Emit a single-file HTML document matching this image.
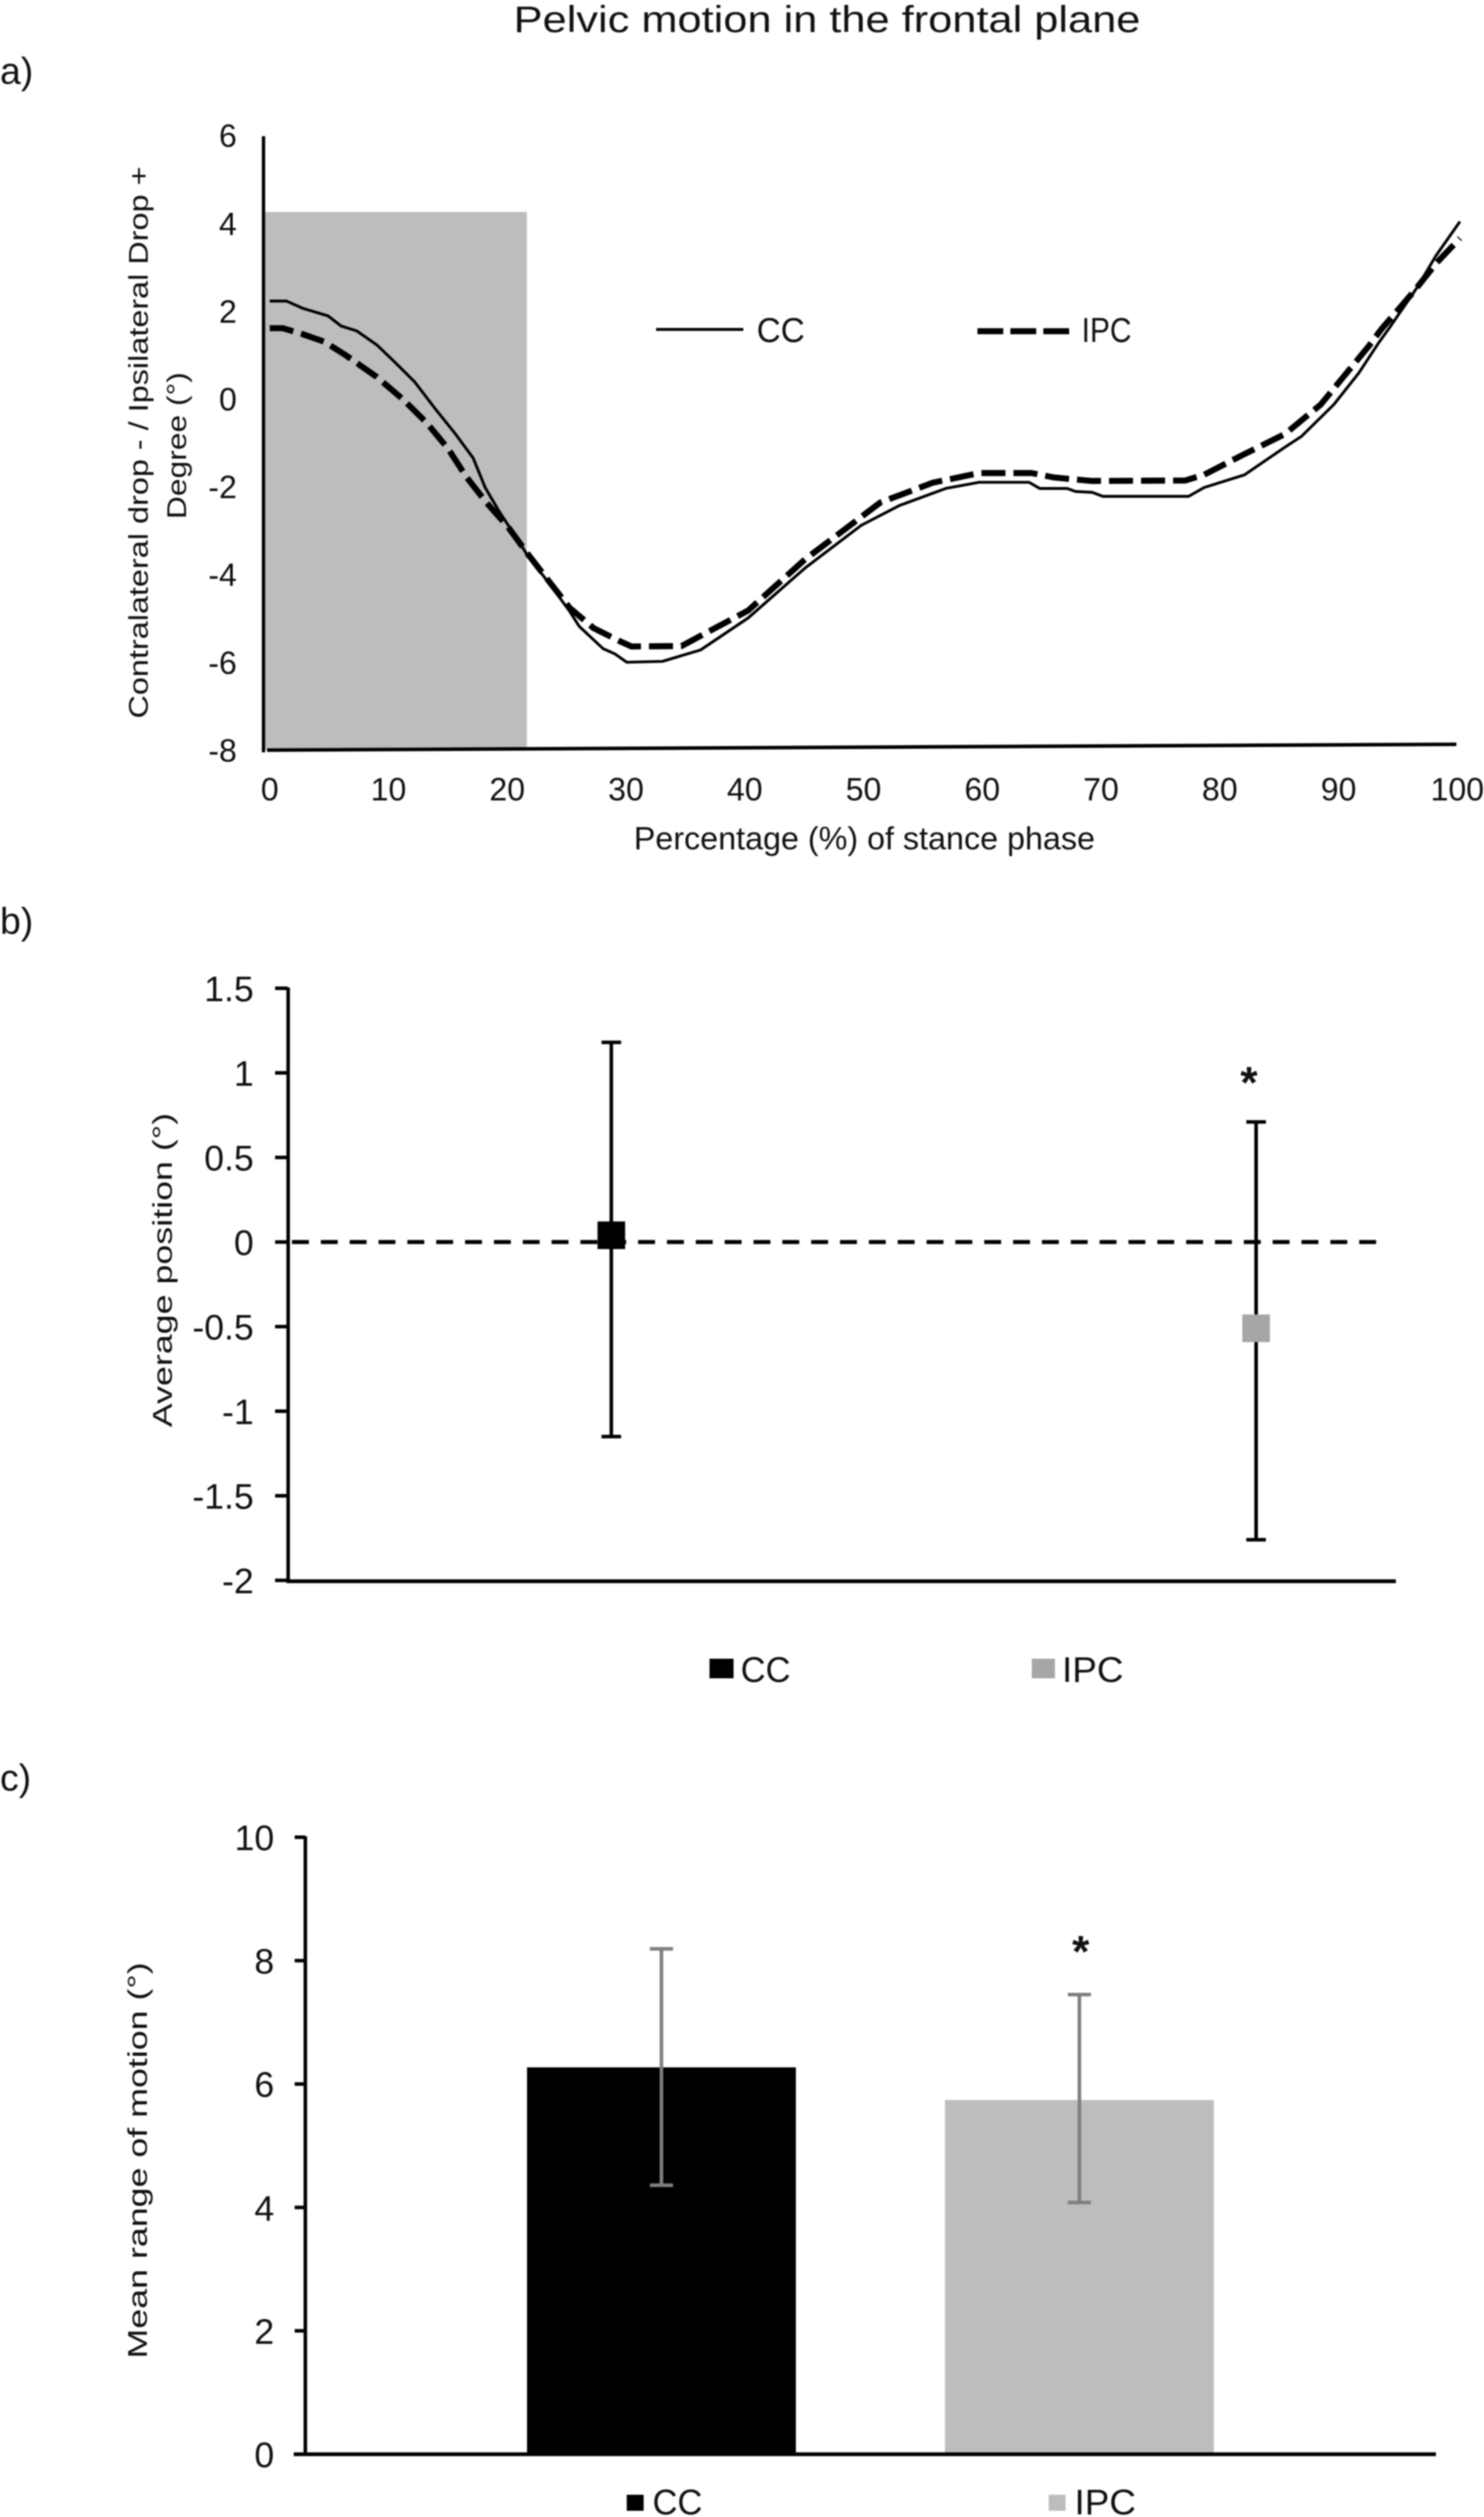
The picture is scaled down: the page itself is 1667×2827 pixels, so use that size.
<!DOCTYPE html>
<html lang="en">
<head>
<meta charset="utf-8">
<title>Pelvic motion in the frontal plane</title>
<style>
html,body{margin:0;padding:0;background:#fff;width:1667px;height:2827px;overflow:hidden}
svg{display:block;filter:blur(0.7px)}
text{font-family:"Liberation Sans",sans-serif;fill:#111}
</style>
</head>
<body>
<svg id="fig" xmlns="http://www.w3.org/2000/svg" width="1667" height="2827" viewBox="0 0 1667 2827">
  <rect x="0" y="0" width="1667" height="2827" fill="#fff"/>
  <text x="577" y="36" font-size="42" textLength="704" lengthAdjust="spacingAndGlyphs">Pelvic motion in the frontal plane</text>
  <text x="0" y="94" font-size="42">a)</text>
  <text x="0" y="1049" font-size="42">b)</text>
  <text x="0" y="2011" font-size="42">c)</text>

  <g id="panelA"></g>
  <g id="panelB"></g>
  <g id="panelC"></g>
</svg>
<script>
/* Panel a data */
const aXTicks = [0,10,20,30,40,50,60,70,80,90,100];
const aYTicks = [6,4,2,0,-2,-4,-6,-8];
const ccPct = [0,1.4,2.8,4.9,6,7.3,9,10.5,12.2,14,15.6,17.1,18.1,19.2,20.2,21.7,23.5,25.2,26,28,29,30,33,36.2,40.2,45,49.7,52.9,56.8,59.6,63.8,64.7,67,67.7,69.1,70,77.2,78.5,81.9,85.3,86.7,89.4,91.5,93.2,94,96.4,98,100];
const ccVal = [2.24,2.24,2.07,1.9,1.67,1.56,1.24,0.85,0.39,-0.25,-0.79,-1.34,-2.01,-2.52,-2.94,-3.57,-4.2,-4.83,-5.17,-5.68,-5.8,-5.99,-5.97,-5.71,-4.98,-3.84,-2.87,-2.42,-2.03,-1.89,-1.89,-2.03,-2.03,-2.1,-2.12,-2.21,-2.21,-2.01,-1.72,-1.09,-0.84,-0.12,0.6,1.3,1.6,2.55,3.28,4.05];
const ipcPct = [0,1.1,2.8,4.6,6.3,9,11.2,13.2,15,16.5,18.2,20,21.7,23.5,25.2,27.2,29.4,30.4,34.6,40.2,45,51.3,55.7,59.6,64,65.9,69.1,76.9,78.5,81.8,85.3,88.3,90.2,92.3,93.4,96.1,98,100];
const ipcVal = [1.62,1.62,1.48,1.31,1.02,0.51,0,-0.54,-1.13,-1.76,-2.35,-2.9,-3.53,-4.16,-4.75,-5.21,-5.51,-5.63,-5.62,-4.81,-3.64,-2.35,-1.9,-1.68,-1.68,-1.78,-1.86,-1.85,-1.72,-1.26,-0.79,-0.12,0.51,1.2,1.6,2.45,3.1,3.67];
const shadedEndPct = 21.6;
const shadedTopVal = 4.27;

/* Panel b data */
const bYTicks = [1.5,1,0.5,0,-0.5,-1,-1.5,-2];
const bGroups = ["CC","IPC"];
const bMeans = [0.04,-0.51];
const bUpper = [1.18,0.71];
const bLower = [-1.15,-1.76];

/* Panel c data */
const cYTicks = [10,8,6,4,2,0];
const cGroups = ["CC","IPC"];
const cMeans = [6.27,5.74];
const cUpper = [8.19,7.45];
const cLower = [4.36,4.08];

const NS = "http://www.w3.org/2000/svg";
function el(parent, tag, attrs, txt) {
  const n = document.createElementNS(NS, tag);
  for (const k in attrs) n.setAttribute(k, attrs[k]);
  if (txt !== undefined) n.textContent = txt;
  parent.appendChild(n);
  return n;
}
function pointsOf(xs, ys, fx, fy) {
  return xs.map((p, i) => fx(p).toFixed(1) + "," + fy(ys[i]).toFixed(1)).join(" ");
}

/* ---------- Panel a ---------- */
const A = document.getElementById("panelA");
const ax = p => 303 + 13.37 * p;
const ay = v => 448.5 - 49.3 * v;
const shade = el(A, "rect", {x:298, y:ay(shadedTopVal), width:ax(shadedEndPct)-298, height:842-ay(shadedTopVal), fill:"#bdbdbd"});


const aYAxis = el(A, "line", {x1:296, y1:153, x2:296, y2:845, stroke:"#000", "stroke-width":3.8});


const aXAxis = el(A, "line", {x1:300, y1:842.5, x2:1636, y2:836, stroke:"#000", "stroke-width":4});


aYTicks.forEach(v => {
  const t = el(A, "text", {x:266, y:ay(v)+12.5, "font-size":36, "text-anchor":"end"}, String(v));
  
  
});
aXTicks.forEach(p => {
  const t = el(A, "text", {x:303+13.34*p, y:899, "font-size":36, "text-anchor":"middle"}, String(p));
  
  
});
const ccLine = el(A, "polyline", {points:pointsOf(ccPct, ccVal, ax, ay), fill:"none", stroke:"#000", "stroke-width":3.2, "stroke-linejoin":"round"});


const ipcLine = el(A, "polyline", {points:pointsOf(ipcPct, ipcVal, ax, ay), fill:"none", stroke:"#000", "stroke-width":6.8, "stroke-dasharray":"27 9", "stroke-linejoin":"round"});


const aTitleX = el(A, "text", {x:712, y:954, "font-size":36, textLength:518, lengthAdjust:"spacingAndGlyphs"}, "Percentage (%) of stance phase");


const aTitleY1 = el(A, "text", {x:0, y:0, "font-size":31, textLength:620, lengthAdjust:"spacingAndGlyphs", transform:"translate(166,807) rotate(-90)"}, "Contralateral drop - / Ipsilateral Drop +");


const aTitleY2 = el(A, "text", {x:0, y:0, "font-size":31, textLength:165, lengthAdjust:"spacingAndGlyphs", transform:"translate(209,583) rotate(-90)"}, "Degree (°)");


const lgCcLine = el(A, "line", {x1:737, y1:370, x2:835, y2:370, stroke:"#000", "stroke-width":3.2});


const lgCcText = el(A, "text", {x:850, y:384, "font-size":39, textLength:54, lengthAdjust:"spacingAndGlyphs"}, "CC");


const lgIpcLine = el(A, "line", {x1:1098, y1:372, x2:1201, y2:372, stroke:"#000", "stroke-width":6.8, "stroke-dasharray":"29 8"});


const lgIpcText = el(A, "text", {x:1215, y:384, "font-size":39, textLength:56, lengthAdjust:"spacingAndGlyphs"}, "IPC");



/* ---------- Panel b ---------- */
const B = document.getElementById("panelB");
const bx = i => 686.7 + 724.3 * i;
const by = v => 1395 - 190 * v;
const bColors = ["#000","#a6a6a6"];
const bYAxis = el(B, "line", {x1:323.7, y1:by(1.5)-1, x2:323.7, y2:1778, stroke:"#000", "stroke-width":4});


const bXAxis = el(B, "line", {x1:322, y1:1776, x2:1568, y2:1776, stroke:"#000", "stroke-width":4.2});


bYTicks.forEach(v => {
  const tick = el(B, "line", {x1:309, y1:by(v), x2:323, y2:by(v), stroke:"#000", "stroke-width":4});
  
  
  const t = el(B, "text", {x:285, y:by(v)+14.5, "font-size":40, "text-anchor":"end"}, String(v));
  
  
});
const zeroLine = el(B, "line", {x1:328, y1:by(0), x2:1547, y2:by(0), stroke:"#000", "stroke-width":4.4, "stroke-dasharray":"19 13.4"});


bGroups.forEach((g, i) => {
  const stem = el(B, "line", {x1:bx(i), y1:by(bUpper[i]), x2:bx(i), y2:by(bLower[i]), stroke:"#000", "stroke-width":4});
  
  
  [bUpper[i], bLower[i]].forEach(v => {
    const cap = el(B, "line", {x1:bx(i)-11, y1:by(v), x2:bx(i)+11, y2:by(v), stroke:"#000", "stroke-width":4});
    
    
  });
  const m = el(B, "rect", {x:bx(i)-15.5, y:by(bMeans[i])-15.5, width:31, height:31, fill:bColors[i]});
  
  
});
const bStar = el(B, "text", {x:1403, y:1233, "font-size":50, "font-weight":"bold", "text-anchor":"middle"}, "*");


const bTitleY = el(B, "text", {x:0, y:0, "font-size":31, textLength:353, lengthAdjust:"spacingAndGlyphs", transform:"translate(193,1603) rotate(-90)"}, "Average position (°)");


const bLgA = el(B, "rect", {x:797, y:1863, width:27, height:22, fill:"#000"});


const bLgAT = el(B, "text", {x:832, y:1889, "font-size":40, textLength:56, lengthAdjust:"spacingAndGlyphs"}, "CC");


const bLgB = el(B, "rect", {x:1159, y:1863, width:26, height:22, fill:"#a6a6a6"});


const bLgBT = el(B, "text", {x:1193, y:1889, "font-size":40, textLength:69, lengthAdjust:"spacingAndGlyphs"}, "IPC");



/* ---------- Panel c ---------- */
const C = document.getElementById("panelC");
const cy = v => 2756.5 - 69.3 * v;
const cCenter = i => 743 + 469.5 * i;
const cBarW = 302;
const cColors = ["#000","#bdbdbd"];
cGroups.forEach((g, i) => {
  const b = el(C, "rect", {x:cCenter(i)-cBarW/2, y:cy(cMeans[i]), width:cBarW, height:cy(0)-cy(cMeans[i]), fill:cColors[i]});
  
  
  const stem = el(C, "line", {x1:cCenter(i), y1:cy(cUpper[i]), x2:cCenter(i), y2:cy(cLower[i]), stroke:"#7f7f7f", "stroke-width":4});
  
  
  [cUpper[i], cLower[i]].forEach(v => {
    const cap = el(C, "line", {x1:cCenter(i)-13, y1:cy(v), x2:cCenter(i)+13, y2:cy(v), stroke:"#7f7f7f", "stroke-width":4});
    
    
  });
});
const cYAxis = el(C, "line", {x1:343, y1:cy(10)-1, x2:343, y2:2758, stroke:"#000", "stroke-width":4});


const cXAxis = el(C, "line", {x1:330, y1:2756.5, x2:1613, y2:2756.5, stroke:"#000", "stroke-width":4.2});


cYTicks.forEach(v => {
  const tick = el(C, "line", {x1:331, y1:cy(v), x2:343, y2:cy(v), stroke:"#000", "stroke-width":4});
  
  
  const t = el(C, "text", {x:308, y:cy(v)+14.5, "font-size":40, "text-anchor":"end"}, String(v));
  
  
});
const cStar = el(C, "text", {x:1214, y:2209, "font-size":50, "font-weight":"bold", "text-anchor":"middle"}, "*");


const cTitleY = el(C, "text", {x:0, y:0, "font-size":31, textLength:445, lengthAdjust:"spacingAndGlyphs", transform:"translate(165,2649) rotate(-90)"}, "Mean range of motion (°)");


const cLgA = el(C, "rect", {x:704, y:2802, width:19, height:18, fill:"#000"});


const cLgAT = el(C, "text", {x:733, y:2824, "font-size":40, textLength:56, lengthAdjust:"spacingAndGlyphs"}, "CC");


const cLgB = el(C, "rect", {x:1178, y:2802, width:19, height:18, fill:"#bdbdbd"});


const cLgBT = el(C, "text", {x:1207, y:2824, "font-size":40, textLength:69, lengthAdjust:"spacingAndGlyphs"}, "IPC");


</script>
</body>
</html>
